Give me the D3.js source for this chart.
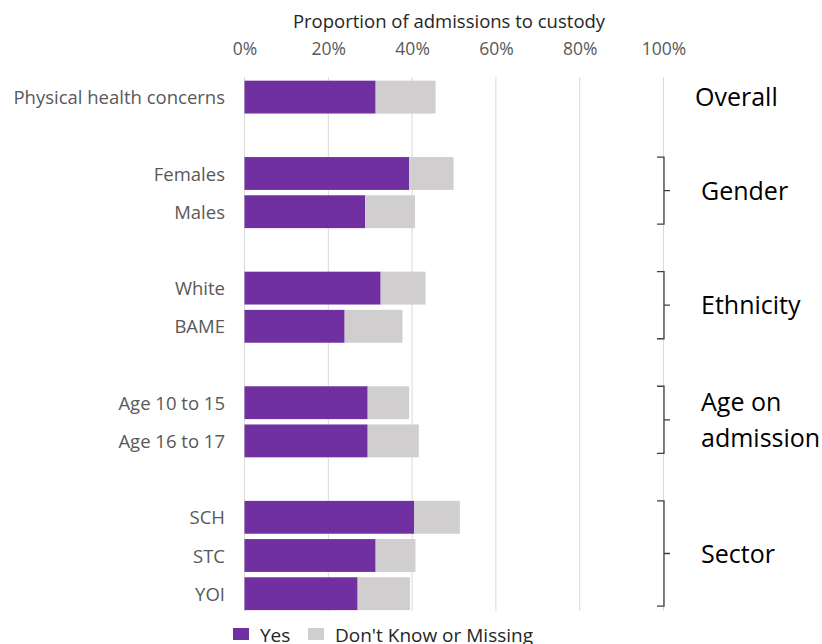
<!DOCTYPE html>
<html>
<head>
<meta charset="utf-8">
<script src="https://cdn.jsdelivr.net/npm/d3@7"></script>
<style>
	body { margin: 0; background: #fff; }
	svg { display: block; font-family: "Open Sans", sans-serif; }
	.tick text { fill: #595959; }
</style>
</head>
<body>
<svg id="chart" width="822" height="644"></svg>
<script>
// Rows of the chart, blanks are spacer rows between groups
const categories = ['Physical health concerns', '', 'Females', 'Males', '', 'White', 'BAME', '', 'Age 10 to 15', 'Age 16 to 17', '', 'SCH', 'STC', 'YOI'];
const yesValues = [31.3, null, 39.3, 28.8, null, 32.5, 23.9, null, 29.4, 29.4, null, 40.5, 31.3, 27.0];
const unknownValues = [14.3, null, 10.6, 11.9, null, 10.7, 13.8, null, 9.9, 12.2, null, 10.9, 9.5, 12.5];
const xTicks = [0, 20, 40, 60, 80, 100];
const seriesNames = ['Yes', "Don't Know or Missing"];
const colors = ['#7030A0', '#D0CECE'];
// Group labels on the right: first row, last row, label lines
const groups = [
	{ from: 0, to: 0, label: ['Overall'], bracket: false },
	{ from: 2, to: 3, label: ['Gender'], bracket: true },
	{ from: 5, to: 6, label: ['Ethnicity'], bracket: true },
	{ from: 8, to: 9, label: ['Age on', 'admission'], bracket: true },
	{ from: 11, to: 13, label: ['Sector'], bracket: true },
];

const svg = d3.select('#chart');
const margin = { left: 244.5, right: 158.5, top: 78, bottom: 31 };
const width = 822 - margin.left - margin.right;

const x = d3.scaleLinear().domain([0, 100]).range([margin.left, margin.left + width]);
const y = d3.scaleBand()
	.domain(d3.range(categories.length))
	.range([margin.top, margin.top + categories.length * 38.2])
	.paddingInner(0.14)
	.paddingOuter(0.07);

// Gridlines
svg.append('g')
	.selectAll('line')
	.data(xTicks)
	.join('line')
	.attr('x1', d => x(d)).attr('x2', d => x(d))
	.attr('y1', margin.top - 1).attr('y2', 611)
	.attr('stroke', '#D9D9D9')
	.attr('stroke-width', 1);

// Top axis labels
const axis = svg.append('g')
	.attr('transform', `translate(0,${margin.top - 23})`)
	.call(d3.axisTop(x).tickValues(xTicks).tickFormat(d => `${d}%`).tickSize(0).tickPadding(0));
axis.select('.domain').remove();
axis.selectAll('text').attr('font-size', 17.5).attr('font-family', '"Open Sans", sans-serif');

svg.append('text')
	.attr('x', 449).attr('y', 28)
	.attr('text-anchor', 'middle')
	.attr('font-size', 18.5)
	.attr('fill', '#262626')
	.text('Proportion of admissions to custody');

// Stacked bars
const rows = categories.map((c, i) => ({ i, c, yes: yesValues[i], dk: unknownValues[i] }))
	.filter(d => d.yes !== null);

const gBars = svg.append('g');
gBars.selectAll('rect.yes')
	.data(rows)
	.join('rect').classed('yes', true)
	.attr('x', x(0)).attr('y', d => y(d.i))
	.attr('width', d => x(d.yes) - x(0))
	.attr('height', y.bandwidth())
	.attr('fill', colors[0]);
gBars.selectAll('rect.dk')
	.data(rows)
	.join('rect').classed('dk', true)
	.attr('x', d => x(d.yes)).attr('y', d => y(d.i))
	.attr('width', d => x(d.yes + d.dk) - x(d.yes))
	.attr('height', y.bandwidth())
	.attr('fill', colors[1]);

// Category labels
svg.append('g')
	.selectAll('text')
	.data(rows)
	.join('text')
	.attr('x', 225).attr('y', d => y(d.i) + y.bandwidth() / 2)
	.attr('dy', '0.38em')
	.attr('text-anchor', 'end')
	.attr('font-size', 18.5)
	.attr('fill', '#595959')
	.text(d => d.c);

// Brackets and group labels
const gGroups = svg.append('g');
groups.forEach((g) => {
	const top = y(g.from);
	const bottom = y(g.to) + y.bandwidth() - 4;
	const mid = (top + bottom) / 2;
	if (g.bracket) {
		const bx = 664;
		gGroups.append('path')
			.attr('d', `M${bx - 7},${top}H${bx}V${bottom}H${bx - 7}M${bx},${mid}H${bx + 6}`)
			.attr('fill', 'none')
			.attr('stroke', '#404040')
			.attr('stroke-width', 1.3);
	}
	const lineH = 36;
	const text = gGroups.append('text')
		.attr('font-size', 25)
		.attr('fill', '#000');
	g.label.forEach((line, k) => {
		text.append('tspan')
			.attr('x', g.bracket ? 701 : 695)
			.attr('y', mid + (g.bracket ? 9 : 11) + (k - (g.label.length - 1) / 2) * lineH)
			.text(line);
	});
});

// Legend
const legend = svg.append('g').attr('transform', 'translate(233,628)');
const legendX = [0, 75];
seriesNames.forEach((name, k) => {
	legend.append('rect')
		.attr('x', legendX[k]).attr('y', 0)
		.attr('width', 16).attr('height', 12)
		.attr('fill', colors[k]);
	legend.append('text')
		.attr('x', legendX[k] + 27).attr('y', 14)
		.attr('font-size', 19)
		.attr('fill', '#262626')
		.text(name);
});
</script>
</body>
</html>
